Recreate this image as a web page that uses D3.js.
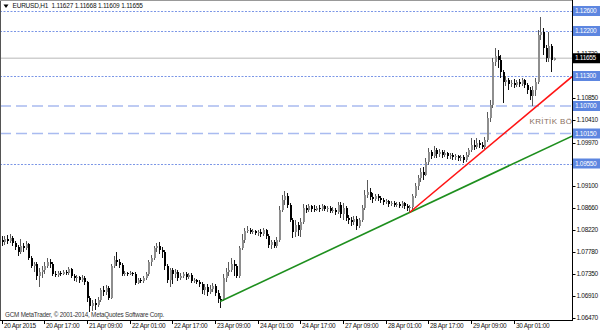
<!DOCTYPE html>
<html><head><meta charset="utf-8">
<script src="https://cdn.jsdelivr.net/npm/d3@7"></script>
<style>
html,body{margin:0;padding:0;background:#fff;}
svg{display:block;}
text{font-family:'Liberation Sans',Arial,sans-serif;}
</style></head><body>
<svg id="c" width="600" height="333"></svg>
<script>
const symbol = "EURUSD,H1";
const open = [
1.0802,1.0798,1.0804,1.0800,1.0806,1.0796,1.0788,1.0778,1.0790,1.0786,
1.0794,1.0766,1.0750,1.0754,1.0730,1.0738,1.0742,1.0750,1.0758,1.0754,
1.0734,1.0732,1.0736,1.0734,1.0738,1.0736,1.0744,1.0730,1.0726,1.0728,
1.0722,1.0726,1.0718,1.0686,1.0670,1.0676,1.0672,1.0682,1.0702,1.0698,
1.0706,1.0686,1.0750,1.0762,1.0758,1.0752,1.0734,1.0736,1.0734,1.0736,
1.0734,1.0716,1.0722,1.0720,1.0726,1.0734,1.0758,1.0766,1.0786,1.0790,
1.0782,1.0778,1.0750,1.0722,1.0742,1.0734,1.0738,1.0726,1.0730,1.0734,
1.0728,1.0732,1.0720,1.0722,1.0718,1.0714,1.0702,1.0708,1.0698,1.0704,
1.0710,1.0696,1.0684,1.0682,1.0726,1.0738,1.0742,1.0754,1.0750,1.0730,
1.0786,1.0802,1.0820,1.0822,1.0818,1.0820,1.0816,1.0818,1.0814,1.0822,
1.0810,1.0792,1.0798,1.0790,1.0802,1.0862,1.0882,1.0890,1.0872,1.0842,
1.0818,1.0832,1.0822,1.0838,1.0866,1.0862,1.0870,
1.0864,1.0862,1.0866,1.0864,1.0870,1.0864,1.0866,1.0860,1.0862,1.0858,
1.0872,1.0854,1.0866,1.0846,1.0842,1.0838,1.0844,1.0830,1.0842,1.0866,
1.0892,1.0898,1.0888,1.0884,1.0890,1.0886,1.0882,1.0878,1.0880,1.0874,
1.0876,1.0872,1.0874,1.0870,1.0876,1.0870,1.0866,1.0868,1.0890,1.0910,
1.0926,1.0938,1.0932,1.0958,1.0978,1.0970,1.0982,1.0974,1.0978,1.0972,
1.0976,1.0970,1.0972,1.0968,1.0970,1.0966,1.0968,1.0962,1.0972,1.0982,
1.0992,1.0988,1.0996,1.0992,1.0988,1.1002,1.1046,1.1072,1.1158,1.1170,
1.1162,1.1138,1.1118,1.1122,1.1114,1.1116,1.1112,1.1118,1.1114,1.1122,
1.1112,1.1102,1.1090,1.1102,1.1118,1.1212,1.1218,1.1186,1.1166,1.1190,1.11627];
const high = [
1.0810,1.0810,1.0812,1.0814,1.0810,1.0800,1.0792,1.0804,1.0796,1.0800,
1.0796,1.0770,1.0758,1.0758,1.0746,1.0750,1.0758,1.0766,1.0764,1.0758,
1.0740,1.0740,1.0740,1.0742,1.0742,1.0748,1.0746,1.0734,1.0732,1.0730,
1.0732,1.0730,1.0720,1.0690,1.0682,1.0684,1.0688,1.0706,1.0710,1.0712,
1.0710,1.0754,1.0770,1.0778,1.0764,1.0756,1.0740,1.0738,1.0740,1.0738,
1.0738,1.0726,1.0726,1.0730,1.0738,1.0762,1.0772,1.0790,1.0796,1.0798,
1.0788,1.0782,1.0754,1.0746,1.0746,1.0744,1.0742,1.0736,1.0738,1.0738,
1.0736,1.0736,1.0726,1.0724,1.0722,1.0718,1.0714,1.0714,1.0712,1.0716,
1.0714,1.0702,1.0690,1.0734,1.0746,1.0758,1.0766,1.0762,1.0754,1.0790,
1.0814,1.0826,1.0830,1.0826,1.0824,1.0822,1.0822,1.0824,1.0826,1.0824,
1.0814,1.0802,1.0802,1.0808,1.0870,1.0892,1.0900,1.0896,1.0876,1.0846,
1.0842,1.0838,1.0846,1.0874,1.0872,1.0874,1.0872,
1.0872,1.0870,1.0872,1.0874,1.0872,1.0870,1.0870,1.0868,1.0866,1.0878,
1.0878,1.0876,1.0870,1.0852,1.0848,1.0850,1.0850,1.0846,1.0872,1.0902,
1.0922,1.0906,1.0896,1.0894,1.0894,1.0890,1.0886,1.0884,1.0882,1.0880,
1.0880,1.0878,1.0878,1.0880,1.0878,1.0874,1.0872,1.0894,1.0916,1.0932,
1.0946,1.0948,1.0966,1.0986,1.0982,1.0990,1.0986,1.0984,1.0982,1.0982,
1.0978,1.0976,1.0976,1.0974,1.0972,1.0972,1.0972,1.0978,1.0986,1.1006,
1.1002,1.1006,1.1002,1.0998,1.1008,1.1058,1.1082,1.1166,1.1186,1.1182,
1.1172,1.1142,1.1130,1.1126,1.1122,1.1124,1.1122,1.1124,1.1126,1.1124,
1.1116,1.1108,1.1110,1.1126,1.1222,1.1248,1.1226,1.1192,1.1218,1.1194,1.11668];
const low = [
1.0790,1.0792,1.0794,1.0796,1.0790,1.0782,1.0770,1.0774,1.0778,1.0782,
1.0762,1.0746,1.0738,1.0722,1.0708,1.0726,1.0734,1.0746,1.0746,1.0730,
1.0728,1.0728,1.0730,1.0732,1.0732,1.0732,1.0726,1.0720,1.0718,1.0716,
1.0718,1.0712,1.0678,1.0658,1.0660,1.0662,1.0668,1.0678,1.0690,1.0692,
1.0682,1.0684,1.0746,1.0750,1.0746,1.0730,1.0730,1.0730,1.0732,1.0730,
1.0712,1.0714,1.0716,1.0716,1.0722,1.0730,1.0750,1.0762,1.0778,1.0774,
1.0766,1.0742,1.0716,1.0708,1.0714,1.0726,1.0720,1.0722,1.0726,1.0722,
1.0724,1.0716,1.0716,1.0714,1.0708,1.0694,1.0692,1.0690,1.0694,1.0698,
1.0690,1.0676,1.0666,1.0680,1.0718,1.0730,1.0738,1.0730,1.0726,1.0726,
1.0782,1.0796,1.0816,1.0814,1.0814,1.0812,1.0810,1.0808,1.0810,1.0804,
1.0786,1.0784,1.0786,1.0786,1.0798,1.0858,1.0872,1.0866,1.0838,1.0806,
1.0808,1.0810,1.0808,1.0834,1.0856,1.0858,1.0858,
1.0858,1.0860,1.0858,1.0860,1.0860,1.0858,1.0856,1.0856,1.0852,1.0854,
1.0846,1.0842,1.0840,1.0834,1.0830,1.0832,1.0822,1.0826,1.0838,1.0862,
1.0886,1.0882,1.0876,1.0880,1.0880,1.0876,1.0872,1.0874,1.0868,1.0870,
1.0868,1.0868,1.0866,1.0866,1.0864,1.0860,1.0858,1.0862,1.0886,1.0902,
1.0918,1.0922,1.0930,1.0952,1.0964,1.0966,1.0966,1.0968,1.0966,1.0968,
1.0964,1.0964,1.0962,1.0962,1.0960,1.0960,1.0956,1.0958,1.0968,1.0978,
1.0982,1.0984,1.0986,1.0984,1.0984,1.0998,1.1038,1.1066,1.1150,1.1146,
1.1126,1.1076,1.1110,1.1102,1.1108,1.1106,1.1108,1.1108,1.1110,1.1106,
1.1094,1.1082,1.1070,1.1090,1.1114,1.1202,1.1172,1.1158,1.1158,1.1138,1.11609];
const close = [
1.0798,1.0804,1.0800,1.0806,1.0796,1.0788,1.0778,1.0790,1.0786,1.0794,
1.0766,1.0750,1.0754,1.0730,1.0738,1.0742,1.0750,1.0758,1.0754,1.0734,
1.0732,1.0736,1.0734,1.0738,1.0736,1.0744,1.0730,1.0726,1.0728,1.0722,
1.0726,1.0718,1.0686,1.0670,1.0676,1.0672,1.0682,1.0702,1.0698,1.0706,
1.0686,1.0750,1.0762,1.0758,1.0752,1.0734,1.0736,1.0734,1.0736,1.0734,
1.0716,1.0722,1.0720,1.0726,1.0734,1.0758,1.0766,1.0786,1.0790,1.0782,
1.0778,1.0750,1.0722,1.0742,1.0734,1.0738,1.0726,1.0730,1.0734,1.0728,
1.0732,1.0720,1.0722,1.0718,1.0714,1.0702,1.0708,1.0698,1.0704,1.0710,
1.0696,1.0684,1.0682,1.0726,1.0738,1.0742,1.0754,1.0750,1.0730,1.0786,
1.0802,1.0820,1.0822,1.0818,1.0820,1.0816,1.0818,1.0814,1.0822,1.0810,
1.0792,1.0798,1.0790,1.0802,1.0862,1.0882,1.0890,1.0872,1.0842,1.0818,
1.0832,1.0822,1.0838,1.0866,1.0862,1.0870,1.0864,
1.0862,1.0866,1.0864,1.0870,1.0864,1.0866,1.0860,1.0862,1.0858,1.0872,
1.0854,1.0866,1.0846,1.0842,1.0838,1.0844,1.0830,1.0842,1.0866,1.0892,
1.0898,1.0888,1.0884,1.0890,1.0886,1.0882,1.0878,1.0880,1.0874,1.0876,
1.0872,1.0874,1.0870,1.0876,1.0870,1.0866,1.0868,1.0890,1.0910,1.0926,
1.0938,1.0932,1.0958,1.0978,1.0970,1.0982,1.0974,1.0978,1.0972,1.0976,
1.0970,1.0972,1.0968,1.0970,1.0966,1.0968,1.0962,1.0972,1.0982,1.0992,
1.0988,1.0996,1.0992,1.0988,1.1002,1.1046,1.1072,1.1158,1.1170,1.1162,
1.1138,1.1118,1.1122,1.1114,1.1116,1.1112,1.1118,1.1114,1.1122,1.1112,
1.1102,1.1090,1.1102,1.1118,1.1212,1.1218,1.1186,1.1166,1.1190,1.11627,1.11655];

const timeLabels = ["20 Apr 2015","20 Apr 17:00","21 Apr 09:00","22 Apr 01:00","22 Apr 17:00","23 Apr 09:00","24 Apr 01:00","24 Apr 17:00","27 Apr 09:00","28 Apr 01:00","28 Apr 17:00","29 Apr 09:00","30 Apr 01:00"];
const timeLabelBars = [0,16,32,48,64,80,96,112,128,144,160,176,192];
const priceTicks = [1.0647,1.0691,1.0735,1.0778,1.0822,1.0866,1.0910,1.0954,1.0997,1.1041,1.1085,1.1129,1.1173,1.1217,1.1261];
const dottedLevels = [1.1260,1.1220,1.1130,1.0955];
const dashedLevels = [1.1070,1.1015];
const currentPrice = 1.11655;
const greenTrend = [[82,1.0679],[153,1.0857]];
const redTrend = [[153,1.0857],[199,1.1062]];
const zoneLabel = "KRİTİK BÖLGE";
const zoneLabelAt = [198, 1.1038];
const copyright = "GCM MetaTrader, © 2001-2014, MetaQuotes Software Corp.";

const svg = d3.select("#c");
const R = 572, B = 320;
const x = d3.scaleLinear().domain([0, 207]).range([1.5, 553.5]);
const y = d3.scaleLinear().domain([1.0642, 1.1280]).range([320, 1]);
const fmt = v => v.toFixed(5);

svg.append("rect").attr("width",600).attr("height",333).attr("fill","#fff");
svg.append("clipPath").attr("id","clip").append("rect").attr("x",0).attr("y",0).attr("width",R).attr("height",B);
const g = svg.append("g").attr("clip-path","url(#clip)");

// horizontal levels
g.selectAll(".dot").data(dottedLevels).join("line")
  .attr("x1",0).attr("x2",R).attr("y1",d=>Math.round(y(d))+0.5).attr("y2",d=>Math.round(y(d))+0.5)
  .attr("stroke","#7b96e6").attr("stroke-width",1).attr("stroke-dasharray","2,1.5");
g.selectAll(".dash").data(dashedLevels).join("line")
  .attr("x1",0).attr("x2",R).attr("y1",d=>y(d)).attr("y2",d=>y(d))
  .attr("stroke","#a9bbf0").attr("stroke-width",1.6).attr("stroke-dasharray","11,5");
g.append("line").attr("x1",0).attr("x2",R).attr("y1",y(currentPrice)).attr("y2",y(currentPrice))
  .attr("stroke","#cfcfcf").attr("stroke-width",1.5);

// candles
const idx = d3.range(close.length);
const bull = i => close[i] >= open[i];
g.selectAll(".wick").data(idx).join("line")
  .attr("x1",i=>Math.round(x(i))+0.5).attr("x2",i=>Math.round(x(i))+0.5)
  .attr("y1",i=>y(high[i])).attr("y2",i=>y(low[i]))
  .attr("stroke",i=>bull(i)?"#5a5a5a":"#111").attr("stroke-width",1);
g.selectAll(".body").data(idx).join("rect")
  .attr("x",i=>Math.round(x(i))-0.5).attr("width",2)
  .attr("y",i=>Math.min(y(open[i]),y(close[i])))
  .attr("height",i=>Math.max(1,Math.abs(y(open[i])-y(close[i]))))
  .attr("fill",i=>bull(i)?"#8e8e8e":"#000")
  .attr("shape-rendering","crispEdges");

// trend lines (rays to the right edge)
function ray(t, color){
  const [a,b] = t;
  const s = (b[1]-a[1])/(b[0]-a[0]);
  const iEnd = x.invert(R);
  g.append("line").attr("x1",x(a[0])).attr("y1",y(a[1]))
   .attr("x2",x(iEnd)).attr("y2",y(a[1]+s*(iEnd-a[0])))
   .attr("stroke",color).attr("stroke-width",1.6);
}
ray(greenTrend,"#1e8f1e");
ray(redTrend,"#ff1414");

g.append("text").attr("x",x(zoneLabelAt[0])).attr("y",y(zoneLabelAt[1]))
  .attr("dominant-baseline","middle").attr("font-size",8).attr("letter-spacing",0.35)
  .attr("fill","#8a705f").text(zoneLabel);

// frame
svg.append("line").attr("x1",0.5).attr("x2",0.5).attr("y1",0).attr("y2",B).attr("stroke","#555");
svg.append("line").attr("x1",0).attr("x2",R).attr("y1",0.5).attr("y2",0.5).attr("stroke","#999");
svg.append("line").attr("x1",R+0.5).attr("x2",R+0.5).attr("y1",0).attr("y2",B+1).attr("stroke","#000");
svg.append("line").attr("x1",0).attr("x2",R+1).attr("y1",B+0.5).attr("y2",B+0.5).attr("stroke","#000");

// price axis
const pa = svg.append("g");
priceTicks.forEach(p=>{
  const yy = Math.round(y(p))+0.5;
  pa.append("line").attr("x1",R).attr("x2",R+3.5).attr("y1",yy).attr("y2",yy).attr("stroke","#000");
  pa.append("text").attr("x",R+4.5).attr("y",yy).attr("dominant-baseline","middle")
    .attr("font-size",6.5).attr("letter-spacing",-0.3).attr("fill","#111").text(fmt(p));
});
function tag(p, bg){
  const yy = y(p);
  pa.append("rect").attr("x",R+1).attr("y",yy-5).attr("width",27).attr("height",10).attr("fill",bg);
  pa.append("text").attr("x",R+3).attr("y",yy+0.3).attr("dominant-baseline","middle")
    .attr("font-size",6.5).attr("letter-spacing",-0.3).attr("fill","#fff").text(fmt(p));
}
dottedLevels.concat(dashedLevels).forEach(p=>tag(p,"#5d86e0"));
tag(currentPrice,"#000");

// time axis
timeLabels.forEach((t,k)=>{
  const xx = Math.round(x(timeLabelBars[k]))+0.5;
  svg.append("line").attr("x1",xx).attr("x2",xx).attr("y1",B).attr("y2",B+4).attr("stroke","#000");
  svg.append("text").attr("x",xx+1.5).attr("y",326).attr("dominant-baseline","middle")
    .attr("font-size",6.5).attr("letter-spacing",-0.3).attr("fill","#111").text(t);
});

// title
const last = close.length-1;
svg.append("path").attr("d","M3.5,4.5 L8.5,4.5 L6,8 Z").attr("fill","#000");
svg.append("text").attr("x",12.5).attr("y",6.5).attr("dominant-baseline","middle")
  .attr("font-size",6.5).attr("letter-spacing",-0.2).attr("fill","#111").attr("xml:space","preserve")
  .text(symbol+"  "+[open[last],high[last],low[last],close[last]].map(fmt).join(" "));
svg.append("text").attr("x",5).attr("y",315).attr("dominant-baseline","middle")
  .attr("font-size",6.3).attr("letter-spacing",-0.2).attr("fill","#333").text(copyright);
</script>
</body></html>
